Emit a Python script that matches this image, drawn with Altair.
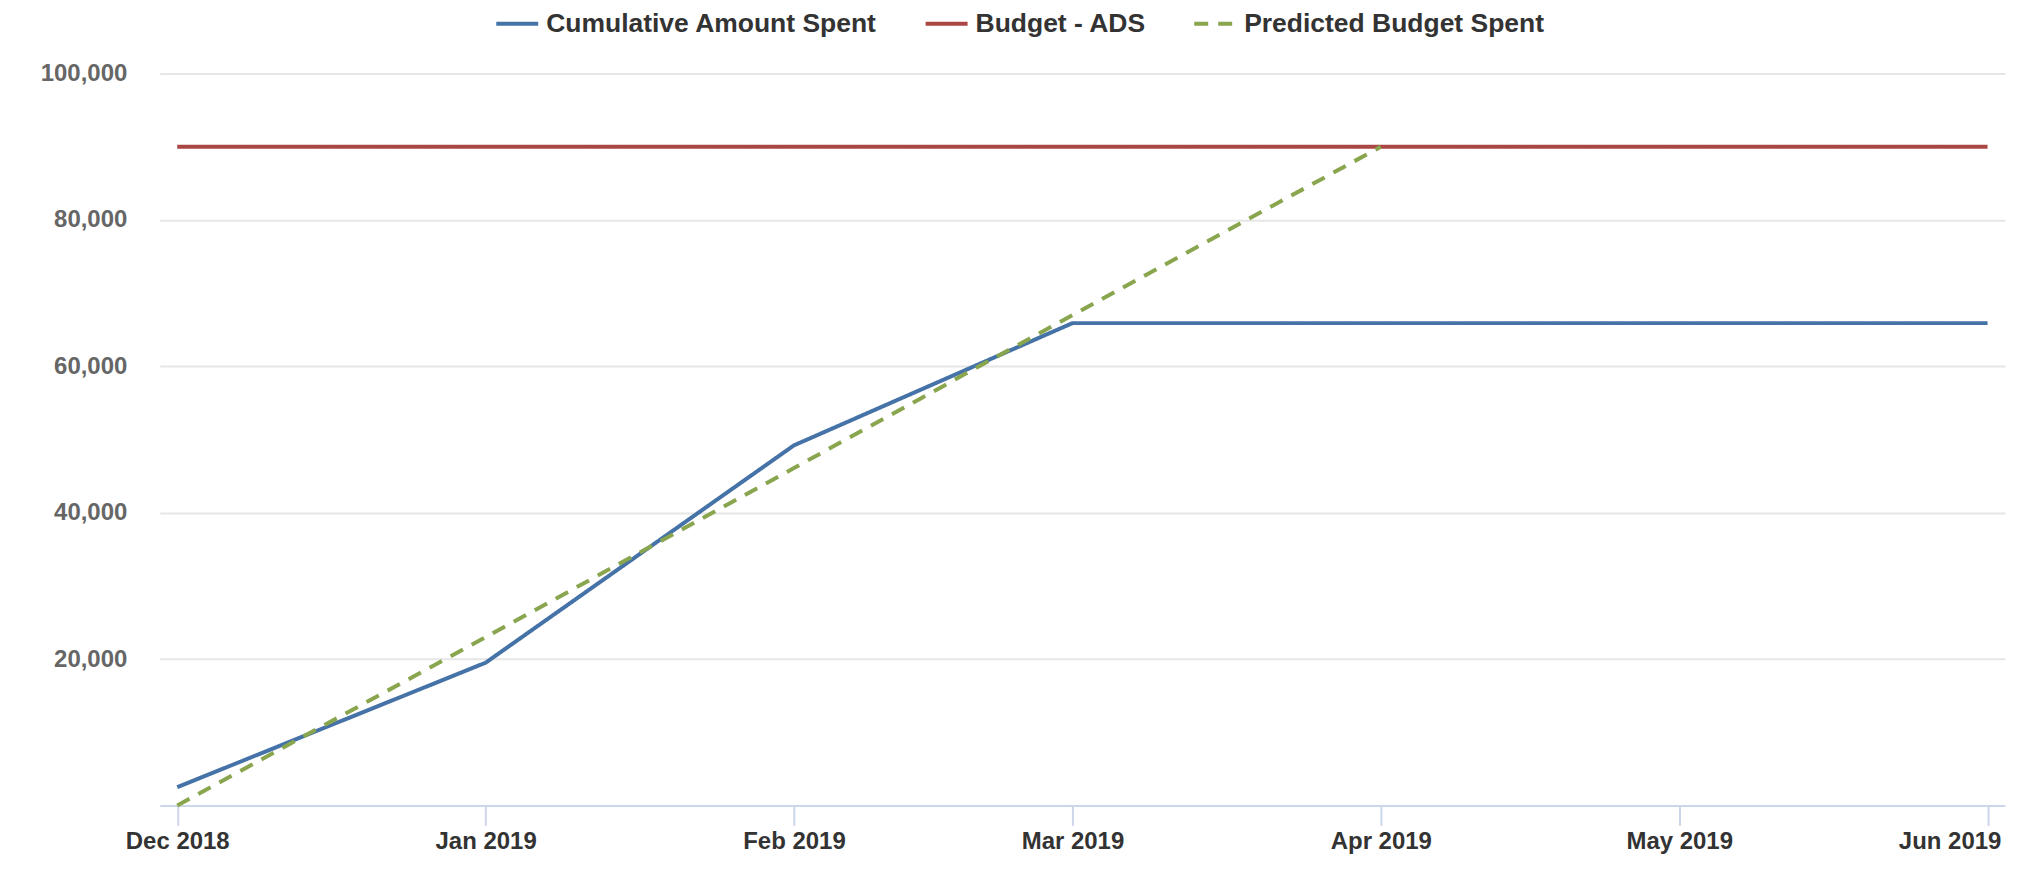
import altair as alt
import pandas as pd

# ---- data ----
months = ["2018-12-01", "2019-01-01", "2019-02-01", "2019-03-01",
          "2019-04-01", "2019-05-01", "2019-06-01"]
cumulative = [2500, 19500, 49200, 65900, 65900, 65900, 65900]
budget = [90000, 90000, 90000, 90000, 90000, 90000, 90000]
pred_months = ["2018-12-01", "2019-01-01", "2019-02-01", "2019-03-01", "2019-04-01"]
predicted = [0, 23000, 46100, 67000, 90000]

series = ["Cumulative Amount Spent", "Budget - ADS", "Predicted Budget Spent"]
colors = ["#4572A7", "#AA4643", "#89A54E"]
dashes = [[1, 0], [1, 0], [14, 10]]
y_ticks = [20000, 40000, 60000, 80000, 100000]

rows = []
for m, v in zip(months, cumulative):
    rows.append({"date": m, "value": v, "series": series[0]})
for m, v in zip(months, budget):
    rows.append({"date": m, "value": v, "series": series[1]})
for m, v in zip(pred_months, predicted):
    rows.append({"date": m, "value": v, "series": series[2]})
df = pd.DataFrame(rows)

FONT = "Liberation Sans, Arial, sans-serif"

legend = alt.Legend(
    title=None, orient="none", legendX=335, legendY=-73,
    direction="horizontal", columns=3,
    symbolType="stroke", symbolSize=1764, symbolStrokeWidth=4,
    labelFont=FONT, labelFontSize=26.5, labelFontWeight="bold",
    labelColor="#333333", labelLimit=600, labelOffset=6,
    columnPadding=40, padding=0,
)

chart = alt.Chart(df).mark_line(strokeWidth=4, strokeCap="butt").encode(
    x=alt.X(
        "date:T",
        scale=alt.Scale(type="utc", padding=17.5),
        axis=alt.Axis(
            title=None,
            labelExpr="utcFormat(datum.value, '%b %Y')",
            tickCount=alt.TimeIntervalStep(interval="month", step=1),
            grid=False, domainColor="#ccd6eb", domainWidth=2,
            tickColor="#ccd6eb", tickWidth=2, tickSize=20,
            labelFont=FONT, labelFontSize=24, labelFontWeight="bold",
            labelColor="#333333", labelPadding=4, labelFlush=False,
            labelOverlap=False,
            labelOffset={"condition": {"test": "utcmonth(datum.value) == 5", "value": -38},
                         "value": 0},
        ),
    ),
    y=alt.Y(
        "value:Q",
        scale=alt.Scale(domain=[0, 100000], nice=False),
        axis=alt.Axis(
            title=None, values=y_ticks, format=",.0f", domain=False,
            ticks=False, tickSize=0, labelPadding=33,
            gridColor="#e6e6e6", gridWidth=2,
            labelFont=FONT, labelFontSize=24, labelFontWeight="bold",
            labelColor="#666666",
        ),
    ),
    color=alt.Color("series:N", scale=alt.Scale(domain=series, range=colors),
                    legend=legend),
    strokeDash=alt.StrokeDash("series:N", scale=alt.Scale(domain=series, range=dashes),
                              legend=legend),
).properties(
    width=1848, height=733,
    background="white",
    autosize=alt.AutoSizeParams(type="none"),
    padding={"left": 152, "top": 65, "right": 15, "bottom": 66},
).configure_view(stroke=None)

chart.save("out.html", embed_options={"renderer": "svg", "actions": False})
